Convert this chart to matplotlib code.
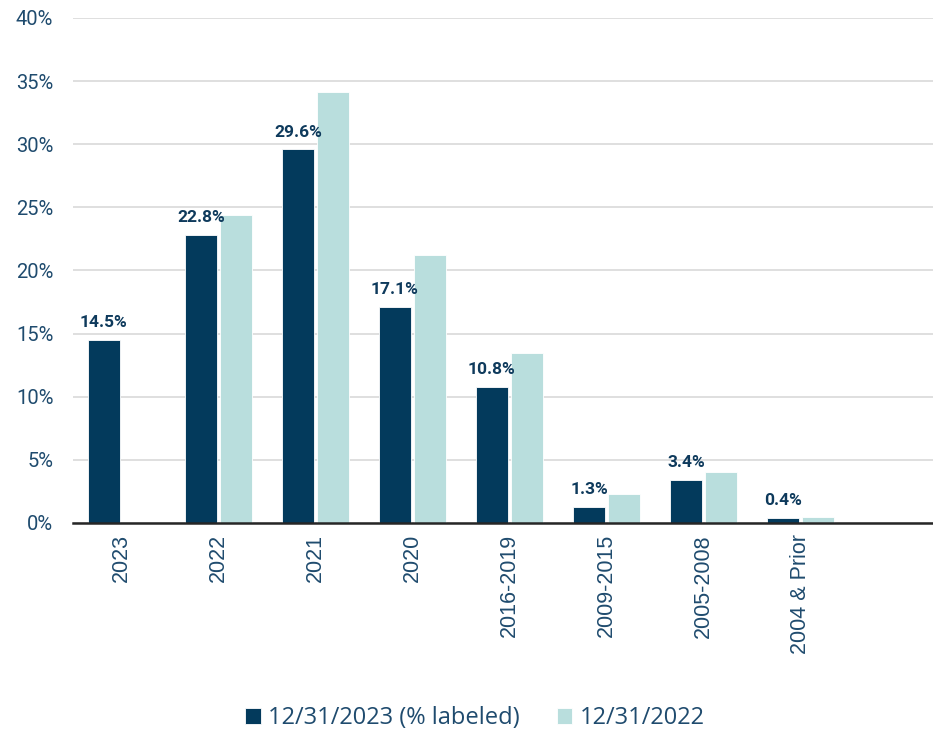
import matplotlib
matplotlib.use("Agg")
import matplotlib.pyplot as plt
import numpy as np

categories = ["2023", "2022", "2021", "2020", "2016-2019", "2009-2015", "2005-2008", "2004 & Prior", ""]
s2023 = [14.5, 22.8, 29.6, 17.1, 10.8, 1.3, 3.4, 0.4, np.nan]
s2022 = [np.nan, 24.4, 34.1, 21.2, 13.5, 2.3, 4.0, 0.5, np.nan]
series_names = ["12/31/2023 (% labeled)", "12/31/2022"]
yticks = [0, 5, 10, 15, 20, 25, 30, 35, 40]

dark = "#033A5C"
light = "#B9DEDD"
tick_col = "#1F4B6E"

fig = plt.figure(figsize=(9.33, 7.33), dpi=100)
ax = fig.add_axes([0.078, 0.2865, 0.922, 0.689])

x = np.arange(len(categories))
w = 0.325
off = 0.18
b1 = ax.bar(x - off, s2023, width=w, color=dark, edgecolor="white", linewidth=0.6,
            label=series_names[0], zorder=3)
b2 = ax.bar(x + off, s2022, width=w, color=light, edgecolor="white", linewidth=0.6,
            label=series_names[1], zorder=3)

for xi, v in zip(x, s2023):
    if not np.isnan(v):
        ax.annotate(f"{v:.1f}%", (xi - off, v), xytext=(0, 7), textcoords="offset points",
                    ha="center", va="bottom", fontsize=12.5, fontweight="bold",
                    color="#0E3A5C", family="Roboto")

ax.set_ylim(0, 40)
ax.set_xlim(-0.5, 8.366)
ax.set_yticks(yticks)
ax.set_yticklabels([f"{t}%" for t in yticks], fontsize=14.5, color=tick_col, family="Roboto")
ax.set_xticks(x)
ax.set_xticklabels(categories, rotation=90, fontsize=15.5, color=tick_col,
                   family="Liberation Sans", va="top")
ax.tick_params(axis="both", length=0)
ax.tick_params(axis="y", pad=14)
ax.tick_params(axis="x", pad=8)

ax.grid(axis="y", color="#D9D9D9", linewidth=1.2, zorder=0)
ax.set_axisbelow(True)
for s in ["top", "right", "left"]:
    ax.spines[s].set_visible(False)
ax.spines["bottom"].set_color("#262626")
ax.spines["bottom"].set_linewidth(1.8)
ax.spines["bottom"].set_zorder(4)

leg = fig.legend(handles=[b1, b2], labels=series_names, loc="center",
                 bbox_to_anchor=(0.509, 0.02), ncol=2, frameon=False,
                 prop={"family": "Open Sans", "size": 17}, handlelength=0.65,
                 handleheight=0.65, handletextpad=0.3, columnspacing=1.6)
for t in leg.get_texts():
    t.set_color(tick_col)

fig.savefig("out.png", dpi=100)
